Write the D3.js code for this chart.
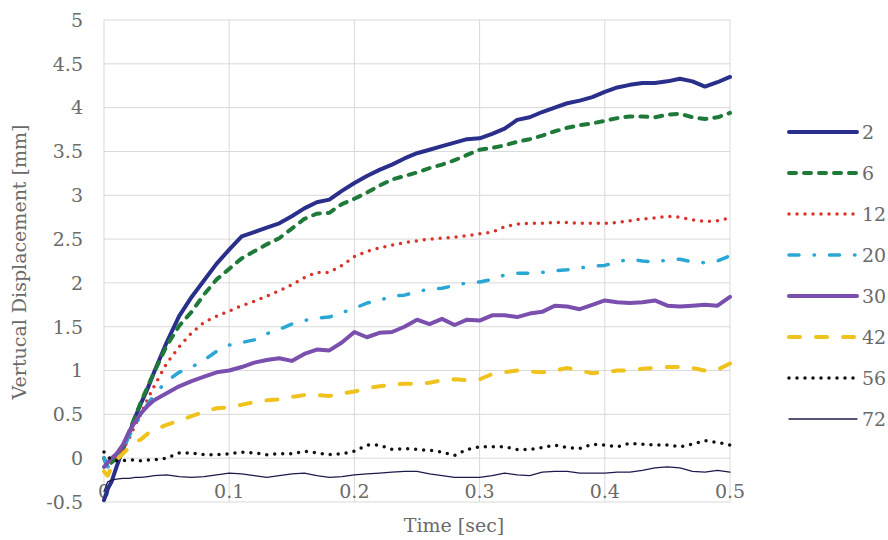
<!DOCTYPE html>
<html>
<head>
<meta charset="utf-8">
<script src="https://cdn.jsdelivr.net/npm/d3@7"></script>
<style>
  html, body { margin: 0; padding: 0; background: #fff; }
  svg { display: block; }
  text { font-family: "DejaVu Serif", "Liberation Serif", serif; fill: #6a6a6a; }
</style>
</head>
<body>
<svg id="chart" width="888" height="540"></svg>
<script>
// Sample times [sec]
const TIME = [0, 0.003, 0.006, 0.01, 0.015, 0.02, 0.025, 0.03, 0.035, 0.04,
  0.05, 0.06, 0.07, 0.08, 0.09, 0.10, 0.11, 0.12, 0.13, 0.14,
  0.15, 0.16, 0.17, 0.18, 0.19, 0.20, 0.21, 0.22, 0.23, 0.24,
  0.25, 0.26, 0.27, 0.28, 0.29, 0.30, 0.31, 0.32, 0.33, 0.34,
  0.35, 0.36, 0.37, 0.38, 0.39, 0.40, 0.41, 0.42, 0.43, 0.44,
  0.45, 0.46, 0.47, 0.48, 0.49, 0.50];

// Vertical displacement [mm] for each series
const S2 = [-0.48, -0.35, -0.27, -0.10, 0.10, 0.28, 0.47, 0.64, 0.80, 0.98,
  1.32, 1.62, 1.84, 2.03, 2.22, 2.38, 2.53, 2.58, 2.63, 2.68,
  2.76, 2.85, 2.92, 2.95, 3.05, 3.14, 3.22, 3.29, 3.35, 3.42,
  3.48, 3.52, 3.56, 3.60, 3.64, 3.65, 3.70, 3.76, 3.86, 3.89,
  3.95, 4.00, 4.05, 4.08, 4.12, 4.18, 4.23, 4.26, 4.28, 4.28,
  4.30, 4.33, 4.30, 4.24, 4.29, 4.35];
const S6 = [0.00, -0.10, -0.05, 0.00, 0.12, 0.30, 0.48, 0.66, 0.82, 0.98,
  1.28, 1.51, 1.67, 1.87, 2.04, 2.16, 2.28, 2.36, 2.44, 2.51,
  2.62, 2.73, 2.79, 2.80, 2.90, 2.96, 3.03, 3.11, 3.18, 3.22,
  3.26, 3.31, 3.35, 3.40, 3.46, 3.52, 3.54, 3.57, 3.61, 3.64,
  3.68, 3.73, 3.77, 3.80, 3.82, 3.85, 3.88, 3.90, 3.90, 3.89,
  3.92, 3.93, 3.89, 3.87, 3.89, 3.94];
const S12 = [0.00, -0.05, -0.02, 0.02, 0.10, 0.22, 0.38, 0.52, 0.68, 0.82,
  1.08, 1.27, 1.43, 1.55, 1.62, 1.68, 1.74, 1.79, 1.85, 1.91,
  1.98, 2.06, 2.12, 2.12, 2.20, 2.30, 2.36, 2.40, 2.43, 2.46,
  2.48, 2.50, 2.51, 2.52, 2.54, 2.56, 2.58, 2.64, 2.67, 2.68,
  2.68, 2.69, 2.69, 2.68, 2.68, 2.68, 2.69, 2.71, 2.73, 2.74,
  2.76, 2.75, 2.72, 2.70, 2.71, 2.74];
const S20 = [0.00, -0.10, -0.05, 0.00, 0.10, 0.25, 0.38, 0.50, 0.62, 0.72,
  0.88, 0.98, 1.04, 1.12, 1.22, 1.29, 1.32, 1.35, 1.42, 1.47,
  1.53, 1.57, 1.60, 1.61, 1.66, 1.71, 1.77, 1.80, 1.85, 1.86,
  1.90, 1.93, 1.94, 1.97, 2.00, 2.01, 2.04, 2.09, 2.11, 2.11,
  2.12, 2.14, 2.15, 2.17, 2.19, 2.20, 2.24, 2.27, 2.25, 2.24,
  2.26, 2.27, 2.24, 2.23, 2.25, 2.31];
const S30 = [-0.10, -0.05, 0.00, 0.05, 0.15, 0.30, 0.42, 0.52, 0.60, 0.66,
  0.74, 0.82, 0.88, 0.93, 0.98, 1.00, 1.04, 1.09, 1.12, 1.14,
  1.11, 1.19, 1.24, 1.23, 1.32, 1.44, 1.38, 1.43, 1.44, 1.50,
  1.58, 1.53, 1.59, 1.52, 1.58, 1.57, 1.63, 1.63, 1.61, 1.65,
  1.67, 1.74, 1.73, 1.70, 1.75, 1.80, 1.78, 1.77, 1.78, 1.80,
  1.74, 1.73, 1.74, 1.75, 1.74, 1.84];
const S42 = [-0.15, -0.20, -0.10, -0.02, 0.05, 0.12, 0.18, 0.22, 0.28, 0.32,
  0.38, 0.43, 0.48, 0.53, 0.57, 0.58, 0.61, 0.64, 0.66, 0.67,
  0.70, 0.72, 0.72, 0.71, 0.74, 0.76, 0.80, 0.82, 0.84, 0.85,
  0.85, 0.86, 0.89, 0.90, 0.89, 0.90, 0.96, 0.98, 1.00, 0.99,
  0.98, 1.00, 1.03, 1.00, 0.97, 0.98, 1.00, 1.00, 1.02, 1.03,
  1.04, 1.04, 1.03, 1.00, 1.01, 1.08];
const S56 = [0.07, 0.02, -0.02, -0.03, -0.03, -0.02, -0.02, -0.03, -0.02, -0.02,
  0.00, 0.06, 0.06, 0.04, 0.04, 0.05, 0.07, 0.06, 0.04, 0.05,
  0.05, 0.08, 0.06, 0.04, 0.05, 0.08, 0.15, 0.15, 0.10, 0.11,
  0.10, 0.09, 0.07, 0.03, 0.10, 0.13, 0.13, 0.13, 0.10, 0.10,
  0.12, 0.15, 0.12, 0.11, 0.16, 0.15, 0.13, 0.17, 0.16, 0.15,
  0.15, 0.13, 0.16, 0.20, 0.18, 0.15];
const S72 = [-0.38, -0.27, -0.25, -0.24, -0.23, -0.23, -0.22, -0.22, -0.21, -0.20,
  -0.19, -0.21, -0.22, -0.21, -0.19, -0.17, -0.18, -0.20, -0.22, -0.20,
  -0.18, -0.17, -0.20, -0.22, -0.21, -0.19, -0.18, -0.17, -0.16, -0.15,
  -0.15, -0.18, -0.20, -0.22, -0.22, -0.22, -0.20, -0.17, -0.19, -0.20,
  -0.16, -0.15, -0.15, -0.17, -0.17, -0.17, -0.16, -0.16, -0.14, -0.11,
  -0.10, -0.11, -0.15, -0.16, -0.14, -0.16];

const SERIES_NAMES = ["2", "6", "12", "20", "30", "42", "56", "72"];
const SERIES_VALUES = [S2, S6, S12, S20, S30, S42, S56, S72];
const X_TICKS = [0, 0.1, 0.2, 0.3, 0.4, 0.5];
const X_TICK_LABELS = ["0", "0.1", "0.2", "0.3", "0.4", "0.5"];
const Y_TICKS = [-0.5, 0, 0.5, 1, 1.5, 2, 2.5, 3, 3.5, 4, 4.5, 5];
const Y_TICK_LABELS = ["-0.5", "0", "0.5", "1", "1.5", "2", "2.5", "3", "3.5", "4", "4.5", "5"];

// Line styles per series
const STYLES = [
  { color: "#2b2f8c", width: 4,   dash: null },
  { color: "#1f7a3a", width: 4,   dash: "7,8" },
  { color: "#d8342c", width: 3.5, dash: "0,8" },
  { color: "#2aa7d4", width: 3.5, dash: "10,15,0.5,15" },
  { color: "#7a4fae", width: 4,   dash: null },
  { color: "#f0c21e", width: 4,   dash: "11,16" },
  { color: "#111111", width: 3.5, dash: "0,8" },
  { color: "#1c1c4c", width: 1.3, dash: null }
];

const svg = d3.select("#chart");
const x = d3.scaleLinear().domain([0, 0.5]).range([104, 730]);
const y = d3.scaleLinear().domain([-0.5, 5]).range([502, 20]);

// Grid
const grid = svg.append("g");
grid.selectAll("line.h").data(Y_TICKS).join("line")
  .attr("x1", x(0)).attr("x2", x(0.5))
  .attr("y1", d => y(d)).attr("y2", d => y(d))
  .attr("stroke", "#d9d9d9").attr("stroke-width", 1);
grid.selectAll("line.v").data(X_TICKS).join("line")
  .attr("x1", d => x(d)).attr("x2", d => x(d))
  .attr("y1", y(-0.5)).attr("y2", y(5))
  .attr("stroke", "#d9d9d9").attr("stroke-width", 1);

// Y tick labels
svg.append("g").selectAll("text").data(Y_TICKS).join("text")
  .attr("x", 83).attr("y", d => y(d)).attr("dy", "0.36em")
  .attr("text-anchor", "end").attr("font-size", 19)
  .text((d, i) => Y_TICK_LABELS[i]);

// X tick labels (sit inside the plot, above the bottom edge)
svg.append("g").selectAll("text").data(X_TICKS).join("text")
  .attr("x", d => x(d)).attr("y", 498)
  .attr("text-anchor", "middle").attr("font-size", 19)
  .text((d, i) => X_TICK_LABELS[i]);

// Series lines
const line = d3.line().x((d, i) => x(TIME[i])).y(d => y(d));
const lines = svg.append("g");
SERIES_VALUES.forEach((vals, k) => {
  const st = STYLES[k];
  lines.append("path").datum(vals)
    .attr("d", line)
    .attr("fill", "none")
    .attr("stroke", st.color)
    .attr("stroke-width", st.width)
    .attr("stroke-linejoin", "round")
    .attr("stroke-linecap", "round")
    .attr("stroke-dasharray", st.dash);
});

// Legend
const legend = svg.append("g");
SERIES_NAMES.forEach((name, k) => {
  const st = STYLES[k];
  const ly = 132 + k * 41;
  legend.append("line")
    .attr("x1", 789).attr("x2", 857).attr("y1", ly).attr("y2", ly)
    .attr("stroke", st.color).attr("stroke-width", st.width)
    .attr("stroke-linecap", "round")
    .attr("stroke-dasharray", st.dash);
  legend.append("text")
    .attr("x", 862).attr("y", ly).attr("dy", "0.36em")
    .attr("font-size", 19).text(name);
});

// Axis titles
svg.append("text")
  .attr("x", 454).attr("y", 532)
  .attr("text-anchor", "middle").attr("font-size", 19)
  .text("Time [sec]");
svg.append("text")
  .attr("transform", "translate(26,262) rotate(-90)")
  .attr("text-anchor", "middle").attr("font-size", 19)
  .text("Vertucal Displacement [mm]");
</script>
</body>
</html>
